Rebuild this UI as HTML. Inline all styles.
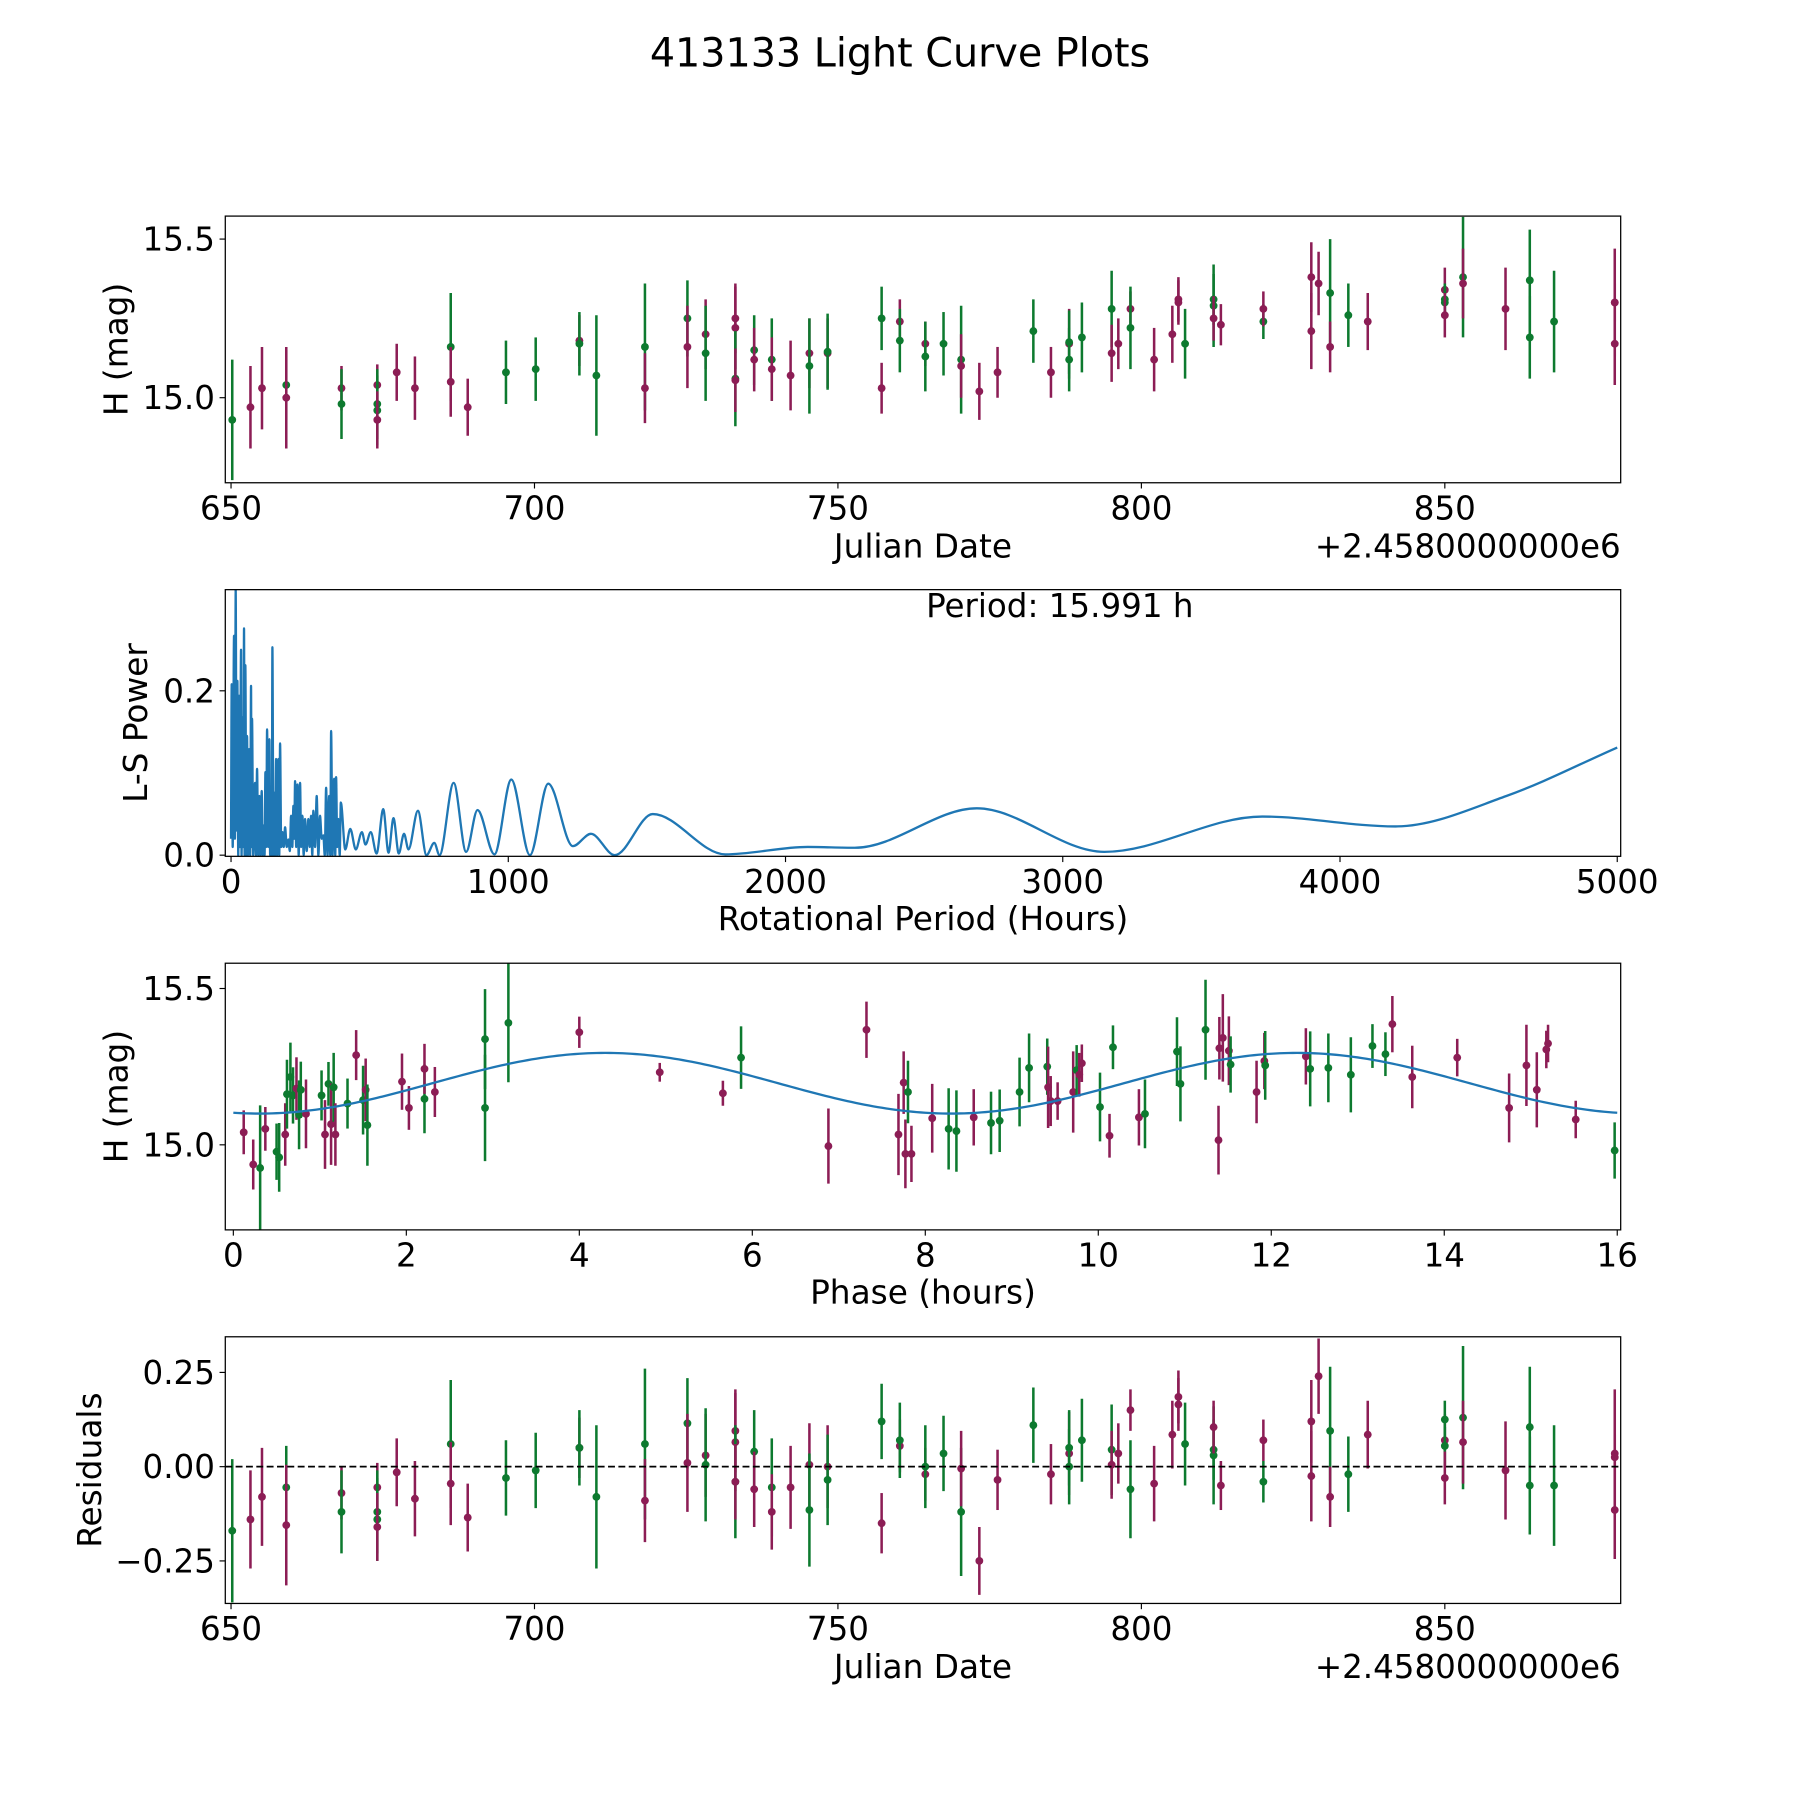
<!DOCTYPE html>
<html><head><meta charset="utf-8"><style>
html,body{margin:0;padding:0;background:#fff;}
svg{display:block;font-family:"DejaVu Sans","Liberation Sans",sans-serif;}
</style></head><body>
<svg id="fig" xmlns="http://www.w3.org/2000/svg" width="1800" height="1800" viewBox="0 0 1566 1566">
<rect x="0" y="0" width="1566" height="1566" fill="#fff"/>
<text x="783" y="58" font-size="34.5" text-anchor="middle" fill="#000">413133 Light Curve Plots</text>
</svg>
<script>
// ---- Panel 1 / 4 data: observations ----
const obsDate=[650.2,653.2,655.1,659.1,659.1,668.2,668.2,674.1,674.1,674.1,674.1,677.3,680.3,686.2,686.2,689.0,695.3,700.2,707.4,707.4,710.2,718.2,718.2,725.2,725.2,728.2,728.2,733.1,733.1,733.1,733.1,736.2,736.2,739.1,739.1,742.2,745.3,745.3,748.3,748.3,757.2,757.2,760.2,760.2,764.4,764.4,767.4,770.3,770.3,773.3,776.3,782.2,785.1,788.1,788.1,788.1,790.2,795.1,795.1,796.2,798.2,798.2,802.1,805.1,806.1,806.1,807.2,811.9,811.9,811.9,813.1,820.1,820.1,828.0,828.0,829.2,831.1,831.1,834.1,837.3,850.0,850.0,850.0,850.0,853.0,853.0,860.0,864.0,864.0,868.0,878.0,878.0,878.0];
const obsMag=[14.93,14.97,15.03,15.04,15.00,15.03,14.98,15.04,14.98,14.96,14.93,15.08,15.03,15.16,15.05,14.97,15.08,15.09,15.18,15.17,15.07,15.16,15.03,15.25,15.16,15.20,15.14,15.25,15.22,15.06,15.055,15.15,15.12,15.12,15.09,15.07,15.14,15.10,15.14,15.145,15.25,15.03,15.24,15.18,15.17,15.13,15.17,15.12,15.10,15.02,15.08,15.21,15.08,15.17,15.175,15.12,15.19,15.28,15.14,15.17,15.28,15.22,15.12,15.20,15.31,15.30,15.17,15.31,15.29,15.25,15.23,15.24,15.28,15.38,15.21,15.36,15.33,15.16,15.26,15.24,15.34,15.31,15.30,15.26,15.38,15.36,15.28,15.37,15.19,15.24,15.30,15.30,15.17];
const obsErr=[0.19,0.13,0.13,0.11,0.16,0.07,0.11,0.065,0.11,0.11,0.09,0.09,0.10,0.17,0.11,0.09,0.10,0.10,0.08,0.10,0.19,0.20,0.11,0.12,0.13,0.11,0.15,0.11,0.13,0.15,0.10,0.11,0.10,0.13,0.10,0.11,0.11,0.15,0.11,0.12,0.10,0.08,0.07,0.10,0.07,0.11,0.10,0.17,0.10,0.09,0.08,0.10,0.08,0.11,0.10,0.10,0.11,0.12,0.09,0.08,0.055,0.13,0.10,0.09,0.07,0.07,0.11,0.08,0.13,0.07,0.065,0.055,0.055,0.11,0.12,0.10,0.17,0.08,0.10,0.09,0.07,0.05,0.05,0.07,0.19,0.11,0.13,0.16,0.13,0.16,0.17,0.06,0.13];
const obsBand=["G","M","M","G","M","M","G","M","G","G","M","M","M","G","M","M","G","G","M","G","G","G","M","G","M","M","G","M","M","G","M","G","M","G","M","M","M","G","M","G","G","M","M","G","M","G","G","G","M","M","M","G","M","M","G","G","G","G","M","M","M","G","M","M","M","M","G","G","G","M","M","G","M","M","M","M","G","M","G","M","M","G","G","M","G","M","M","G","G","G","M","M","M"];
const obsResid=[-0.17,-0.14,-0.08,-0.055,-0.155,-0.07,-0.12,-0.055,-0.12,-0.14,-0.16,-0.015,-0.085,0.06,-0.045,-0.135,-0.03,-0.01,0.05,0.05,-0.08,0.06,-0.09,0.115,0.01,0.03,0.005,0.095,0.065,-0.04,-0.04,0.04,-0.06,-0.055,-0.12,-0.055,0.005,-0.115,0.0,-0.035,0.12,-0.15,0.055,0.07,-0.02,0.0,0.035,-0.12,-0.005,-0.25,-0.035,0.11,-0.02,0.035,0.05,0.0,0.07,0.045,0.005,0.035,0.15,-0.06,-0.045,0.085,0.185,0.165,0.06,0.045,0.03,0.105,-0.05,-0.04,0.07,0.12,-0.025,0.24,0.095,-0.08,-0.02,0.085,0.07,0.125,0.055,-0.03,0.13,0.065,-0.01,0.105,-0.05,-0.05,0.035,0.025,-0.115];

// ---- Panel 3 data: phased ----
const phHour=[0.12,0.23,0.31,0.37,0.50,0.53,0.60,0.62,0.66,0.69,0.73,0.76,0.78,0.84,1.02,1.06,1.10,1.13,1.16,1.18,1.32,1.42,1.50,1.53,1.55,1.95,2.03,2.21,2.21,2.33,2.91,2.91,3.18,4.00,4.93,5.66,5.87,6.88,7.32,7.69,7.75,7.77,7.80,7.84,8.08,8.27,8.36,8.56,8.76,8.86,9.09,9.20,9.41,9.42,9.45,9.53,9.71,9.75,9.78,9.81,10.02,10.13,10.17,10.47,10.54,10.91,10.95,11.24,11.39,11.40,11.44,11.51,11.53,11.83,11.92,11.93,12.40,12.45,12.66,12.92,13.17,13.32,13.40,13.63,14.15,14.75,14.95,15.07,15.18,15.20,15.52,15.97];
const phMag=[15.040,14.937,14.926,15.051,14.978,14.960,15.033,15.162,15.217,15.158,15.180,15.096,15.176,15.099,15.158,15.033,15.195,15.066,15.184,15.033,15.132,15.287,15.143,15.176,15.063,15.202,15.118,15.147,15.243,15.169,15.338,15.118,15.390,15.360,15.232,15.165,15.279,14.996,15.368,15.033,15.199,14.971,15.169,14.971,15.085,15.051,15.044,15.088,15.070,15.077,15.169,15.246,15.250,15.184,15.140,15.140,15.169,15.239,15.224,15.261,15.121,15.029,15.312,15.088,15.099,15.298,15.195,15.368,15.015,15.309,15.342,15.301,15.257,15.169,15.268,15.254,15.283,15.243,15.246,15.224,15.316,15.290,15.386,15.217,15.279,15.118,15.254,15.176,15.305,15.324,15.081,14.982];
const phErr=[0.07,0.08,0.2,0.07,0.09,0.11,0.1,0.11,0.11,0.09,0.1,0.11,0.09,0.11,0.08,0.11,0.07,0.13,0.11,0.1,0.08,0.08,0.11,0.1,0.13,0.09,0.07,0.11,0.08,0.08,0.16,0.17,0.19,0.05,0.03,0.04,0.1,0.12,0.09,0.13,0.1,0.11,0.1,0.09,0.11,0.13,0.13,0.09,0.1,0.1,0.11,0.11,0.09,0.13,0.08,0.06,0.13,0.08,0.07,0.06,0.11,0.07,0.07,0.09,0.11,0.11,0.12,0.16,0.11,0.1,0.14,0.11,0.09,0.1,0.09,0.11,0.09,0.12,0.11,0.12,0.07,0.07,0.09,0.1,0.06,0.11,0.13,0.12,0.06,0.06,0.06,0.09];
const phBand=["M","M","G","M","G","G","M","G","G","G","M","G","G","M","G","M","G","M","G","M","G","M","G","M","G","M","M","G","M","M","G","G","G","M","M","M","G","M","M","M","M","M","G","M","M","G","G","M","G","G","G","G","G","M","M","M","M","G","M","M","G","M","G","M","G","G","G","G","M","M","M","M","G","M","M","G","M","G","G","G","G","G","M","M","M","M","M","M","M","M","M","G"];
const modelMean=15.197, modelAmp=0.097, modelPeak=4.3, modelPeriod=15.991;

// ---- Panel 2 data: Lomb-Scargle periodogram ----
const lsPeriod=[
0,2.4,6,10.8,14,16.8,20,22.9,26,28.9,
32,36.1,38,40.9,44,46.9,49,51.7,55,57.8,
61,65,69,72.2,74,75.8,80,86.6,90,93.9,
98,102.3,106,110.7,114,117.9,121,124,127,130,
134,138.4,141,144.4,147,149.2,153,156.4,159,162.5,
166,170.9,174,176.9,181,185.3,190,195,201,207,
212,216.6,221,225,228,231,235,239.5,244,249,
253,257.5,262,267,273,279,284,288.8,293,297,
303,309,315,321,327,333,338,343,348,354,
358,361,366,372,376,379,383,387,392,396,
412,430,450,472,485,504,525,549,568,586,
605,624,640,674,705,733,752,803,848,889,
950,1011,1078,1144,1233,1298,1384,1521,1783,2080,
2250,2690,3150,3720,4200,4600,5000];
const lsPower=[
0.02,0.208,0.01,0.267,0.02,0.323,0.03,0.212,0.0,0.194,
0.01,0.25,0.0,0.168,0.01,0.276,0.0,0.231,0.0,0.145,
0.0,0.129,0.0,0.206,0.01,0.166,0.0,0.088,0.0,0.105,
0.0,0.072,0.0,0.078,0.0,0.036,0.0,0.101,0.01,0.153,
0.01,0.141,0.0,0.064,0.0,0.253,0.0,0.076,0.0,0.117,
0.0,0.117,0.0,0.136,0.01,0.028,0.01,0.034,0.01,0.019,
0.005,0.048,0.01,0.06,0.02,0.09,0.01,0.086,0.0,0.088,
0.01,0.048,0.0,0.044,0.005,0.044,0.01,0.048,0.0,0.054,
0.01,0.072,0.0,0.048,0.02,0.024,0.0,0.082,0.0,0.072,
0.0,0.151,0.0,0.093,0.0,0.095,0.01,0.044,0.0,0.064,
0.007,0.032,0.007,0.028,0.013,0.028,0.002,0.056,0.003,0.045,
0.002,0.026,0.007,0.054,0.0,0.015,0.0,0.088,0.004,0.055,
0.001,0.092,0.0,0.087,0.011,0.026,0.0,0.050,0.001,0.010,
0.009,0.057,0.004,0.047,0.035,0.072,0.131];

const NS="http://www.w3.org/2000/svg";
const svg=document.getElementById('fig');
const MAG="#8c1d55", GRN="#0d7a2f";
function el(tag,attrs,parent){const e=document.createElementNS(NS,tag);for(const k in attrs)e.setAttribute(k,attrs[k]);(parent||svg).appendChild(e);return e;}
function lin(d0,d1,p0,p1){return v=>p0+(v-d0)*(p1-p0)/(d1-d0);}

const L=196,R=1410,TF=28.3;
function frame(g,top,bot,name){
  const r=el('rect',{x:L,y:top,width:R-L,height:bot-top,fill:'none',stroke:'#000','stroke-width':1.1},g);
  
  
}
function xtick(g,x,bot,label,name){
  el('line',{x1:x,y1:bot,x2:x,y2:bot+5,stroke:'#000','stroke-width':1},g);
  const t=el('text',{x:x,y:bot+32,'font-size':TF,'text-anchor':'middle'},g);t.textContent=label;
  
  
}
function ytick(g,y,label,name){
  el('line',{x1:L,y1:y,x2:L-5,y2:y,stroke:'#000','stroke-width':1},g);
  const t=el('text',{x:L-9,y:y+10,'font-size':TF,'text-anchor':'end'},g);t.textContent=label;
  
  
}
function label(g,x,y,txt,rot,name){
  const t=el('text',{x:x,y:y,'font-size':28.5,'text-anchor':'middle'},g);
  if(rot)t.setAttribute('transform','rotate(-90 '+x+' '+y+')');
  t.textContent=txt;
  
  
}
function point(g,x,y,yl,yh,c,name){
  const grp=el('g',{},g);
  
  
  el('line',{x1:x,y1:yl,x2:x,y2:yh,stroke:c,'stroke-width':2.2},grp);
  el('circle',{cx:x,cy:y,r:3.4,fill:c},grp);
}
// monotone cubic path through pixel points
function monoPath(xs,ys){
  const n=xs.length;const d=[],m=new Array(n);
  for(let i=0;i<n-1;i++)d.push((ys[i+1]-ys[i])/(xs[i+1]-xs[i]||1e-9));
  m[0]=d[0];m[n-1]=d[n-2];
  for(let i=1;i<n-1;i++){m[i]=(d[i-1]*d[i]<=0)?0:(d[i-1]+d[i])/2;}
  for(let i=0;i<n-1;i++){if(d[i]===0){m[i]=0;m[i+1]=0;continue;}const a=m[i]/d[i],b=m[i+1]/d[i],s=a*a+b*b;if(s>9){const t=3/Math.sqrt(s);m[i]=t*a*d[i];m[i+1]=t*b*d[i];}}
  let p='M'+xs[0].toFixed(2)+' '+ys[0].toFixed(2);
  for(let i=0;i<n-1;i++){const h=xs[i+1]-xs[i];
    p+='C'+(xs[i]+h/3).toFixed(2)+' '+(ys[i]+m[i]*h/3).toFixed(2)+' '+(xs[i+1]-h/3).toFixed(2)+' '+(ys[i+1]-m[i+1]*h/3).toFixed(2)+' '+xs[i+1].toFixed(2)+' '+ys[i+1].toFixed(2);}
  return p;
}

// ===== Panel 1 =====
{
  const g=el('g',{});
  const top=188,bot=420;
  const X=lin(650,850,201,1257), Y=lin(15.0,15.5,346,208);
  const cp=el('clipPath',{id:'c1'},g);el('rect',{x:L,y:top,width:R-L,height:bot-top},cp);
  const pg=el('g',{'clip-path':'url(#c1)'},g);
  for(let i=0;i<obsDate.length;i++){
    point(pg,X(obsDate[i]),Y(obsMag[i]),Y(obsMag[i]-obsErr[i]),Y(obsMag[i]+obsErr[i]),obsBand[i]==="G"?GRN:MAG,'observation-point');
  }
  frame(g,top,bot,'light-curve');
  [650,700,750,800,850].forEach(v=>xtick(g,X(v),bot,String(v),'x-tick-label'));
  [15.0,15.5].forEach(v=>ytick(g,Y(v),v.toFixed(1),'y-tick-label'));
  label(g,803,485,'Julian Date',false,'x-axis-title');
  const o=el('text',{x:R,y:485,'font-size':TF,'text-anchor':'end'},g);o.textContent='+2.4580000000e6';
  
  
  label(g,111,304,'H (mag)',true,'y-axis-title');
}
// ===== Panel 2 =====
{
  const g=el('g',{});
  const top=513,bot=745;
  const X=lin(0,5000,201,1407), Y=lin(0,0.2,744,601);
  const cp=el('clipPath',{id:'c2'},g);el('rect',{x:L,y:top,width:R-L,height:bot-top},cp);
  const d=monoPath(lsPeriod.map(X),lsPower.map(Y));
  const p=el('path',{d:d,fill:'none',stroke:'#1f77b4','stroke-width':2,'stroke-linejoin':'round','clip-path':'url(#c2)'},g);
  
  
  frame(g,top,bot,'periodogram');
  [0,1000,2000,3000,4000,5000].forEach(v=>xtick(g,X(v),bot,String(v),'x-tick-label'));
  [0.0,0.2].forEach(v=>ytick(g,Y(v),v.toFixed(1),'y-tick-label'));
  label(g,803,809,'Rotational Period (Hours)',false,'x-axis-title');
  label(g,128,629,'L-S Power',true,'y-axis-title');
  const t=el('text',{x:922,y:537,'font-size':TF,'text-anchor':'middle'},g);t.textContent='Period: 15.991 h';
  
  
}
// ===== Panel 3 =====
{
  const g=el('g',{});
  const top=838,bot=1070;
  const X=lin(0,16,203,1407), Y=lin(15.0,15.5,996,860);
  const cp=el('clipPath',{id:'c3'},g);el('rect',{x:L,y:top,width:R-L,height:bot-top},cp);
  const pg=el('g',{'clip-path':'url(#c3)'},g);
  for(let i=0;i<phHour.length;i++){
    point(pg,X(phHour[i]),Y(phMag[i]),Y(phMag[i]-phErr[i]),Y(phMag[i]+phErr[i]),phBand[i]==="G"?GRN:MAG,'phased-point');
  }
  let d='';
  for(let k=0;k<=320;k++){const ph=k*16/320;const m=modelMean+modelAmp*Math.cos(4*Math.PI*(ph-modelPeak)/modelPeriod);d+=(k?'L':'M')+X(ph).toFixed(2)+' '+Y(m).toFixed(2);}
  const p=el('path',{d:d,fill:'none',stroke:'#1f77b4','stroke-width':2},pg);
  
  
  frame(g,top,bot,'phased');
  [0,2,4,6,8,10,12,14,16].forEach(v=>xtick(g,X(v),bot,String(v),'x-tick-label'));
  [15.0,15.5].forEach(v=>ytick(g,Y(v),v.toFixed(1),'y-tick-label'));
  label(g,803,1134,'Phase (hours)',false,'x-axis-title');
  label(g,111,954,'H (mag)',true,'y-axis-title');
}
// ===== Panel 4 =====
{
  const g=el('g',{});
  const top=1163,bot=1395;
  const X=lin(650,850,201,1257), Y=lin(0,0.25,1276,1194);
  const cp=el('clipPath',{id:'c4'},g);el('rect',{x:L,y:top,width:R-L,height:bot-top},cp);
  const pg=el('g',{'clip-path':'url(#c4)'},g);
  for(let i=0;i<obsDate.length;i++){
    point(pg,X(obsDate[i]),Y(obsResid[i]),Y(obsResid[i]-obsErr[i]),Y(obsResid[i]+obsErr[i]),obsBand[i]==="G"?GRN:MAG,'residual-point');
  }
  const z=el('line',{x1:L,y1:Y(0),x2:R,y2:Y(0),stroke:'#000','stroke-width':1.5,'stroke-dasharray':'6 3'},g);
  
  
  frame(g,top,bot,'residuals');
  [650,700,750,800,850].forEach(v=>xtick(g,X(v),bot,String(v),'x-tick-label'));
  [[-0.25,'\u22120.25'],[0,'0.00'],[0.25,'0.25']].forEach(a=>ytick(g,Y(a[0]),a[1],'y-tick-label'));
  label(g,803,1460,'Julian Date',false,'x-axis-title');
  const o=el('text',{x:R,y:1460,'font-size':TF,'text-anchor':'end'},g);o.textContent='+2.4580000000e6';
  
  
  label(g,88,1279,'Residuals',true,'y-axis-title');
}
</script>
</body></html>
